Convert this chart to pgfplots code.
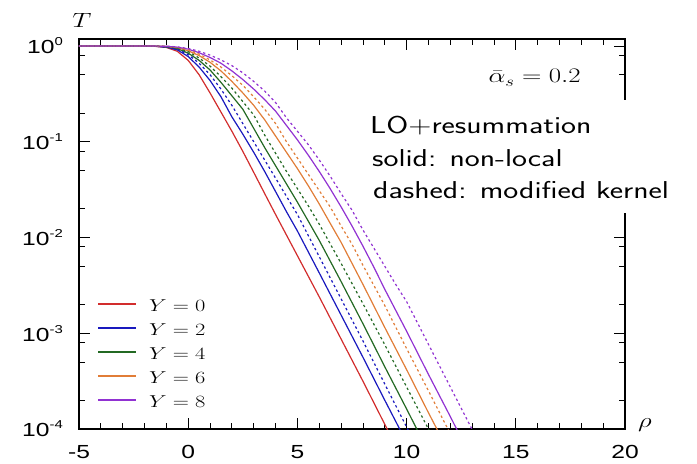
\documentclass[border=0pt]{standalone}
\usepackage[no-math]{fontspec}
\usepackage{graphicx}
\usepackage{pgfplots}
\pgfplotsset{compat=1.18}
\newfontfamily\arial{Liberation Sans}
% widened lettering used throughout the figure
\newcommand{\sx}[1]{\scalebox{1.3}[1]{#1}}
\newcommand{\tpow}[1]{\sx{10\raisebox{8bp}{\fontsize{11.5}{11.5}\selectfont #1}}}
\definecolor{cYa}{RGB}{210,45,45}
\definecolor{cYb}{RGB}{25,25,190}
\definecolor{cYc}{RGB}{35,105,35}
\definecolor{cYd}{RGB}{225,125,55}
\definecolor{cYe}{RGB}{145,50,210}
\begin{document}
\begin{tikzpicture}
\path[use as bounding box] (-79bp,-35bp) rectangle (618bp,429bp);
\begin{axis}[
  at={(0,0)}, anchor=south west,
  scale only axis, width=546bp, height=390bp,
  xmin=-5, xmax=20,
  ymode=log, ymin=1e-4, ymax=1.183,
  xtick={-5,0,5,10,15,20},
  xticklabels={\sx{-5},\sx{0},\sx{5},\sx{10},\sx{15},\sx{20}},
  minor x tick num=4,
  ytick={1e-4,1e-3,1e-2,1e-1,1},
  yticklabels={\tpow{-4},\tpow{-3},\tpow{-2},\tpow{-1},\tpow{0}},
  minor ytick={2e-4,5e-4,8e-4,2e-3,5e-3,8e-3,0.02,0.05,0.08,0.2,0.5,0.8},
  major tick length=11bp, minor tick length=6bp,
  tick style={black, line width=0.8bp},
  axis line style={line width=1.6bp},
  ticklabel style={font=\arial\fontsize{19}{19}\selectfont, inner sep=0pt},
  xticklabel style={yshift=-16bp},
  yticklabel style={xshift=-16bp},
  legend style={draw=none, fill=none, inner sep=0pt,
    at={(0.033,0.33846)}, anchor=north west,
    font=\fontsize{19}{19}\selectfont,
    row sep=10bp, column sep=12bp,
    nodes={inner sep=0pt, text height=14bp, text depth=0bp}},
  legend cell align=left,
  legend image code/.code={\draw[#1, line width=1.9bp] (0bp,0bp) -- (38bp,0bp);},
  every axis plot/.append style={line width=1.2bp},
]
% non-local (solid)
\addplot[cYa] coordinates {(-5,1) (-2,1) (-1.5,0.9908) (-1,0.9661) (-0.5,0.8810) (0,0.7079) (0.5,0.5012) (1,0.3236) (1.5,0.2042) (2,0.1288) (2.5,0.0794) (3,0.0479) (3.5,0.0288) (4,0.0174) (5,0.00646) (6,0.00240) (7,8.71e-4) (8,3.16e-4) (9,1.12e-4) (9.6,6.03e-5)};
\addlegendentry{\sx{$Y=0$}}
\addplot[cYb] coordinates {(-5,1) (-2,1) (-1.5,0.9931) (-1,0.9727) (-0.5,0.9120) (0,0.7762) (0.5,0.6026) (1,0.4365) (1.5,0.2951) (2,0.1820) (2.5,0.1202) (3,0.0776) (3.5,0.0490) (4,0.0302) (4.5,0.0186) (5,0.0117) (6,0.00427) (7,0.00155) (8,5.62e-4) (9,2.00e-4) (10,7.24e-5)};
\addlegendentry{\sx{$Y=2$}}
\addplot[cYc] coordinates {(-5,1) (-2,1) (-1.5,0.9954) (-1,0.9817) (-0.5,0.9397) (0,0.8414) (0.5,0.7079) (1,0.5623) (1.5,0.4169) (2,0.3020) (2.5,0.2188) (3,0.1380) (3.5,0.0871) (4,0.0562) (4.5,0.0363) (5,0.0234) (5.5,0.0148) (6,0.00933) (7,0.00347) (8,0.00126) (9,4.47e-4) (10,1.62e-4) (11,5.75e-5)};
\addlegendentry{\sx{$Y=4$}}
\addplot[cYd] coordinates {(-5,1) (-2,1) (-1.5,0.9977) (-1,0.9886) (-0.5,0.9594) (0,0.8913) (0.5,0.7943) (1,0.6761) (1.5,0.5495) (2,0.4266) (2.5,0.3236) (3,0.2399) (3.5,0.1698) (4,0.1148) (4.5,0.0776) (5,0.0525) (5.5,0.0347) (6,0.0224) (6.5,0.0141) (7,0.00891) (8,0.00324) (9,0.00115) (10,4.17e-4) (11,1.48e-4) (12,5.37e-5)};
\addlegendentry{\sx{$Y=6$}}
\addplot[cYe] coordinates {(-5,1) (-2,1) (-1.5,0.9977) (-1,0.9931) (-0.5,0.9727) (0,0.9268) (0.5,0.8511) (1,0.7586) (1.5,0.6607) (2,0.5495) (2.5,0.4467) (3,0.3548) (3.5,0.2754) (4,0.2089) (4.5,0.1479) (5,0.1047) (5.5,0.0724) (6,0.0490) (6.5,0.0324) (7,0.0209) (7.5,0.0132) (8,0.00813) (8.5,0.00490) (9,0.00288) (10,0.00105) (11,3.72e-4) (12,1.35e-4) (13,4.79e-5)};
\addlegendentry{\sx{$Y=8$}}
% modified kernel (dashed)
\pgfplotsset{dk/.style={forget plot, dash pattern=on 2.4bp off 2.8bp}}
\addplot[cYb, dk] coordinates {(-5,1) (-2,1) (-1.5,0.9954) (-1,0.9772) (-0.5,0.9268) (0,0.8128) (0.5,0.6607) (1,0.5012) (1.5,0.3548) (2,0.2399) (2.5,0.1549) (3,0.1) (3.5,0.0646) (4,0.0417) (4.5,0.0269) (5,0.0174) (6,0.00631) (7,0.00229) (8,8.32e-4) (9,2.95e-4) (10,1.05e-4) (10.5,6.31e-5)};
\addplot[cYc, dk] coordinates {(-5,1) (-2,1) (-1.5,0.9977) (-1,0.9863) (-0.5,0.9506) (0,0.8710) (0.5,0.7499) (1,0.6166) (1.5,0.4786) (2,0.3631) (2.5,0.2630) (3,0.1905) (3.5,0.1175) (4,0.0759) (4.5,0.0490) (5,0.0324) (5.5,0.0214) (6,0.0138) (7,0.00537) (8,0.00204) (9,7.59e-4) (10,2.75e-4) (11,1e-4) (11.5,5.89e-5)};
\addplot[cYd, dk] coordinates {(-5,1) (-2,1) (-1.5,0.9977) (-1,0.9908) (-0.5,0.9661) (0,0.9120) (0.5,0.8222) (1,0.7161) (1.5,0.6026) (2,0.4898) (2.5,0.3890) (3,0.2951) (3.5,0.2188) (4,0.1549) (4.5,0.1) (5,0.0676) (5.5,0.0457) (6,0.0309) (6.5,0.0209) (7,0.0132) (7.5,0.00851) (8,0.00513) (9,0.00195) (10,6.92e-4) (11,2.51e-4) (12,8.91e-5) (12.5,5.37e-5)};
\addplot[cYe, dk] coordinates {(-5,1) (-2,1) (-1.5,0.9977) (-1,0.9954) (-0.5,0.9795) (0,0.9419) (0.5,0.8810) (1,0.8035) (1.5,0.7161) (2,0.6237) (2.5,0.5248) (3,0.4266) (3.5,0.3388) (4,0.2570) (4.5,0.1778) (5,0.1288) (5.5,0.0933) (6,0.0646) (6.5,0.0437) (7,0.0288) (7.5,0.0193) (8,0.0120) (8.5,0.00776) (9,0.00501) (9.5,0.00324) (10,0.00214) (11,7.67e-4) (12,2.75e-4) (13,9.89e-5) (13.5,5.89e-5)};
\end{axis}
% annotation panel over the right frame
\fill[white] (283bp,216bp) rectangle (618bp,329bp);
\begin{scope}[every node/.style={anchor=base west, inner sep=0pt, font=\sffamily\fontsize{24.5}{24.5}\selectfont}]
\node at (291bp,295bp) {\sx{LO+resummation}};
\node at (293bp,262bp) {\sx{solid: non-local}};
\node at (294bp,230bp) {\sx{dashed: modified kernel}};
\end{scope}
\node[anchor=base east, inner sep=0pt, font=\fontsize{19.5}{19.5}\selectfont] at (502bp,346bp) {\sx{$\bar{\alpha}_s = 0.2$}};
\node[inner sep=0pt, font=\fontsize{21}{21}\selectfont] at (3bp,409bp) {\sx{$T$}};
\node[inner sep=0pt, font=\fontsize{21}{21}\selectfont] at (566bp,4bp) {\sx{$\rho$}};
\end{tikzpicture}
\end{document}
